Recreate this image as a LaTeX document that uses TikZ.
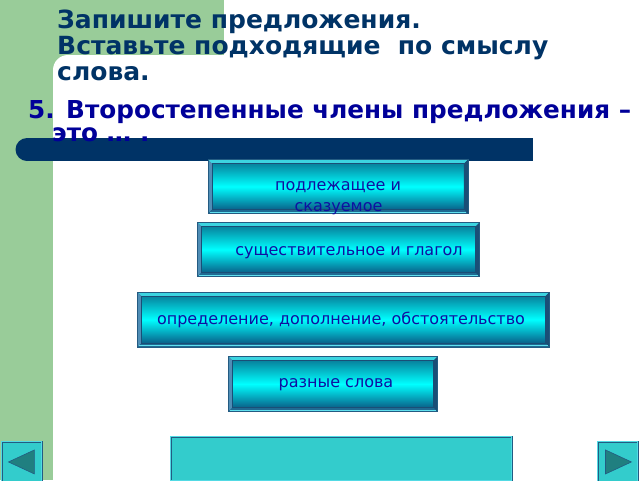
\documentclass[tikz,border=0pt]{standalone}
\usepackage{fontspec}
\setmainfont{DejaVu Sans}
\definecolor{green1}{HTML}{99CC99}
\definecolor{navy}{HTML}{003366}
\definecolor{qblue}{HTML}{000099}
\definecolor{btext}{HTML}{1010A0}
\definecolor{bdark}{HTML}{235B82}
\definecolor{blight}{HTML}{60E0EE}
\definecolor{teal1}{HTML}{33CCCC}
\definecolor{tri}{HTML}{207F80}
\definecolor{btop}{HTML}{08708F}
\definecolor{bbot}{HTML}{0A4A78}
\definecolor{bvtop}{HTML}{3CD4E0}
\definecolor{bvleft}{HTML}{4F8DB5}
\definecolor{bvright}{HTML}{1A4E76}
\definecolor{bvbot}{HTML}{1F6A92}
\tikzset{
  btn/.style={rectangle, inner sep=0pt, top color=btop, bottom color=bbot, middle color=cyan,
    draw=bdark, line width=0.6pt},
  btxt/.style={text=btext, font=\fontsize{16}{20.5}\selectfont, inner sep=0pt, anchor=base},
  ttl/.style={text=navy, font=\bfseries\fontsize{25}{26}\selectfont, inner sep=0pt, anchor=base west},
  qst/.style={text=qblue, font=\bfseries\fontsize{24.7}{25}\selectfont, inner sep=0pt, anchor=base west},
  navbtn/.style={rectangle, fill=teal1, draw=bdark, double=blight!70!teal1, double distance=1pt, line width=0.9pt, inner sep=0pt},
  tristyle/.style={fill=tri, draw=bdark, line width=0.6pt}
}
\newcommand{\bevelframe}[1]{%
  \fill[bvtop] (#1.north west) -- (#1.north east) -- ([shift={(-4,4)}]#1.north east) -- ([shift={(4,4)}]#1.north west) -- cycle;
  \fill[bvleft] (#1.north west) -- ([shift={(4,4)}]#1.north west) -- ([shift={(4,-4)}]#1.south west) -- (#1.south west) -- cycle;
  \fill[bvright] (#1.north east) -- ([shift={(-4,4)}]#1.north east) -- ([shift={(-4,-4)}]#1.south east) -- (#1.south east) -- cycle;
  \fill[bvbot] (#1.south west) -- ([shift={(4,-4)}]#1.south west) -- ([shift={(-4,-4)}]#1.south east) -- (#1.south east) -- cycle;
  \draw[blight, line width=0.5pt] ([shift={(1.5,-1.5)}]#1.south west) -- ([shift={(-1.5,-1.5)}]#1.south east);
  \draw[bdark, line width=0.6pt] (#1.north west) rectangle (#1.south east);
  \draw[bvright, line width=0.5pt] ([shift={(4,4)}]#1.north west) rectangle ([shift={(-4,-4)}]#1.south east);
}
\begin{document}
\begin{tikzpicture}[x=1pt,y=-1pt]
\useasboundingbox (0,0) rectangle (640,480);
% background
\fill[green1] (0,0) rectangle (640,480);
\fill[white] (224,0) -- (640,0) -- (640,480) -- (53,480) -- (53,70) arc[start angle=180,end angle=270,radius=15] -- (224,55) -- cycle;
% title
\node[ttl] (title1) at (57,28) {Запишите предложения.};
\node[ttl] (title2) at (57,54.5) {Вставьте подходящие\ \ по смыслу};
\node[ttl] (title3) at (57,80.5) {слова.};
% dark bar
\fill[navy] (27,138) rectangle (533,161);
\fill[navy] (27,149.5) circle[radius=11.5];
% question
\node[qst] (q1) at (28,118) {5. Второстепенные члены предложения –};
\node[qst] (q2) at (52,141) {это … .};
% answer buttons
\node[btn, minimum width=259pt, minimum height=53pt] (b1) at (338,186.5) {};
\bevelframe{b1}
\node[btxt] (t1a) at (338,190.5) {подлежащее и};
\node[btxt] (t1b) at (338.5,211) {сказуемое};
\node[btn, minimum width=281pt, minimum height=53pt] (b2) at (338.5,249.5) {};
\bevelframe{b2}
\node[btxt] (t2) at (349,255) {существительное и глагол};
\node[btn, minimum width=411pt, minimum height=54pt] (b3) at (343.5,319.5) {};
\bevelframe{b3}
\node[btxt] (t3) at (341,324) {определение, дополнение, обстоятельство};
\node[btn, minimum width=208pt, minimum height=54pt] (b4) at (333,384) {};
\bevelframe{b4}
\node[btxt] (t4) at (336,387.5) {разные слова};
% bottom bar
\node[navbtn, minimum width=341pt, minimum height=44pt, anchor=north west] (bar) at (170.5,436.5) {};
% nav buttons
\node[navbtn, minimum width=40pt, minimum height=40pt, anchor=north west] (prev) at (1.5,441.5) {};
\draw[tristyle] ([xshift=7pt]prev.west) -- ([xshift=-8pt,yshift=-12pt]prev.east) -- ([xshift=-8pt,yshift=12pt]prev.east) -- cycle;
\node[navbtn, minimum width=40pt, minimum height=40pt, anchor=north west] (next) at (597.5,441.5) {};
\draw[tristyle] ([xshift=-7pt]next.east) -- ([xshift=8pt,yshift=-12pt]next.west) -- ([xshift=8pt,yshift=12pt]next.west) -- cycle;
\end{tikzpicture}
\end{document}
